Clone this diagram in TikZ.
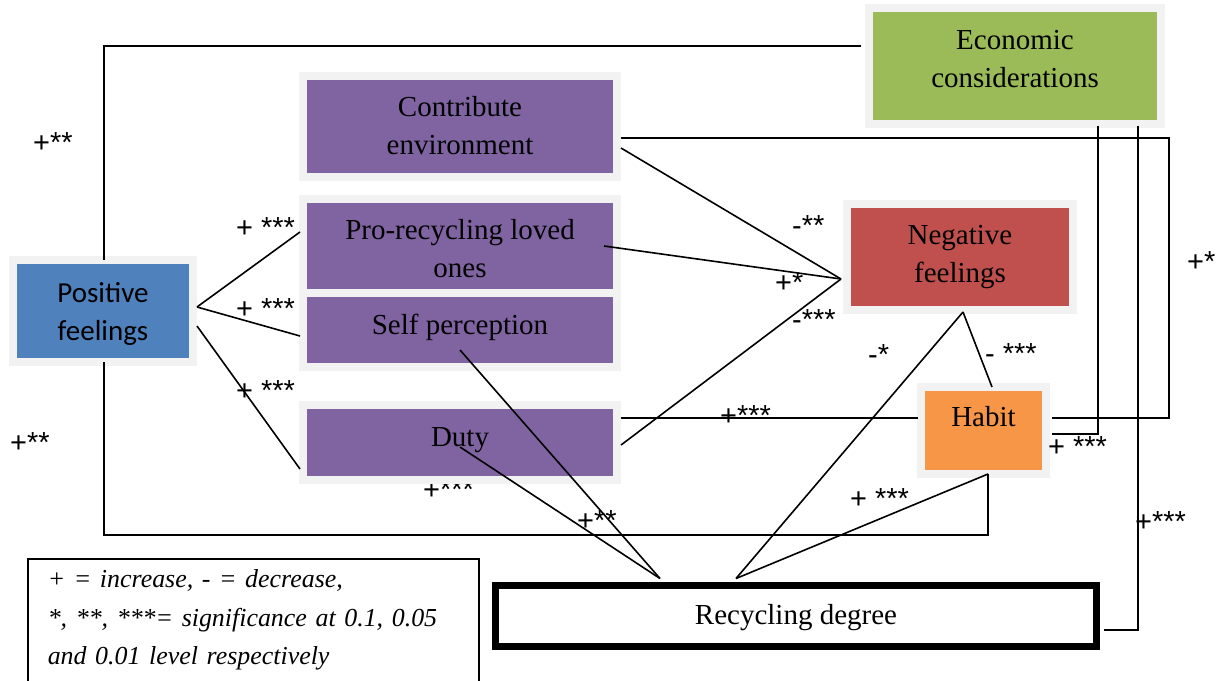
\documentclass[tikz,border=0pt]{standalone}
\usepackage{fontspec}
\setmainfont{Liberation Serif}
\newfontfamily\lsans{Liberation Sans}
\newfontfamily\carlito{Carlito}
\usetikzlibrary{calc}
\definecolor{cpurple}{HTML}{8064A2}
\definecolor{cblue}{HTML}{4F81BD}
\definecolor{cred}{HTML}{C0504D}
\definecolor{cgreen}{HTML}{9BBB59}
\definecolor{corange}{HTML}{F79646}
\definecolor{cframe}{HTML}{F2F2F2}
\begin{document}
\begin{tikzpicture}[x=1pt,y=-1pt,
  box/.style={draw=cframe, line width=8pt, inner sep=0pt, align=center,
    font={\fontsize{29}{38}\selectfont}},
  conn/.style={line width=1.6pt},
  lab/.style={font={\lsans\fontsize{29}{29}\selectfont}, inner sep=0pt, anchor=west}]
\useasboundingbox (0,0) rectangle (1217,680);
\fill[white] (0,0) rectangle (1217,680);
% label partly hidden behind the Duty box frame
\node[lab] (l6) at (423,490) {+***};
% boxes
\node[box, fill=cgreen, minimum width=292, minimum height=116, text height=42pt, text depth=0pt] (econ) at (1015,66) {Economic\\considerations};
\node[box, fill=cpurple, minimum width=314, minimum height=101, text height=55pt, text depth=0pt] (contrib) at (460,126.5) {Contribute\\environment};
\node[box, fill=cpurple, minimum width=314, minimum height=94, text height=62pt, text depth=0pt] (prol) at (460,246) {Pro-recycling loved\\ones};
\node[box, fill=cpurple, minimum width=314, minimum height=74, text height=8pt, text depth=0pt] (self) at (460,330) {Self perception};
\node[box, fill=cpurple, minimum width=314, minimum height=75, text height=8.4pt, text depth=0pt] (duty) at (460,442.5) {Duty};
\node[box, fill=cblue, minimum width=180, minimum height=102, text height=58pt, text depth=0pt, font={\carlito\fontsize{29}{38}\selectfont}] (pos) at (103,311) {Positive\\feelings};
\node[box, fill=cred, minimum width=226, minimum height=106, text height=50pt, text depth=0pt] (neg) at (960,257) {Negative\\feelings};
\node[box, fill=corange, minimum width=125, minimum height=87, text height=0pt, text depth=7.6pt] (habit) at (983.5,430.5) {Habit};
\node[draw, line width=7pt, fill=white, inner sep=0pt, minimum width=601, minimum height=61, text height=16pt, text depth=0pt, font={\fontsize{29}{38}\selectfont}] (rec) at (796,616) {Recycling degree};
\node[draw, line width=1.5pt, anchor=north west, inner xsep=20pt, inner ysep=11pt, text width=411pt, align=left, font={\itshape\fontsize{25.9}{38.5}\selectfont}] (legend) at (27,558) {+ = increase, - = decrease,\\{}*, **, ***= significance at 0.1, 0.05\\and 0.01 level respectively};
% connectors
\draw[conn] ($(econ.west)+(-4,-20)$) -| ($(pos.north)+(1,4)$);
\draw[conn] ($(pos.south)+(1,-4)$) -- ++(0,173) -| ($(habit.south)+(4.5,-4)$);
\draw[conn] ($(pos.east)+(0,-4)$) -- ($(prol.west)+(1,-14)$);
\draw[conn] ($(pos.east)+(0,-4)$) -- ($(self.west)+(1,6)$);
\draw[conn] ($(pos.east)+(0,15)$) -- ($(duty.west)+(1,26.5)$);
\draw[conn] ($(contrib.east)+(0,11.5)$) -- ++(548,0) |- ($(habit.east)+(2,-12.5)$);
\coordinate (negin) at ($(neg.west)+(-2,22)$);
\draw[conn] ($(contrib.east)+(0,21.5)$) -- (negin);
\draw[conn] ($(prol.east)+(-17,0)$) -- (negin);
\draw[conn] ($(duty.east)+(0,2.5)$) -- (negin);
\draw[conn] ($(duty.east)+(0,-24.5)$) -- ($(habit.west)+(1,-12.5)$);
\coordinate (negout) at ($(neg.south)+(3,-2)$);
\draw[conn] (negout) -- ($(habit.north)+(8.5,4)$);
\coordinate (recA) at ($(rec.north)+(-136,-3.5)$);
\coordinate (recB) at ($(rec.north)+(-60,-3.5)$);
\draw[conn] (negout) -- (recB);
\draw[conn] ($(habit.south)+(4.5,-4)$) -- (recB);
\draw[conn] ($(self.center)+(0,20)$) -- (recA);
\draw[conn] ($(duty.center)+(0,4.5)$) -- (recA);
\draw[conn] ($(econ.south)+(83,-2)$) |- ($(habit.east)+(2,3.5)$);
\draw[conn] ($(econ.south)+(123,-2)$) |- ($(rec.east)+(3.5,14)$);
% labels
\node[lab] (l1) at (33,143) {+**};
\node[lab] (l2) at (10,443) {+**};
\node[lab] (l3) at (236,228) {+ ***};
\node[lab] (l4) at (236,309) {+ ***};
\node[lab] (l5) at (236,391) {+ ***};
\node[lab] (l7) at (577,521) {+**};
\node[lab] (l8) at (792,226) {-**};
\node[lab] (l9) at (775,283) {+*};
\node[lab] (l10) at (792,320) {-***};
\node[lab] (l11) at (720,416) {+***};
\node[lab] (l12) at (868,355) {-*};
\node[lab] (l13) at (985,354) {- ***};
\node[lab] (l14) at (850,499) {+ ***};
\node[lab] (l15) at (1048,447) {+ ***};
\node[lab] (l16) at (1187,262) {+*};
\node[lab] (l17) at (1135,522) {+***};
\end{tikzpicture}
\end{document}
